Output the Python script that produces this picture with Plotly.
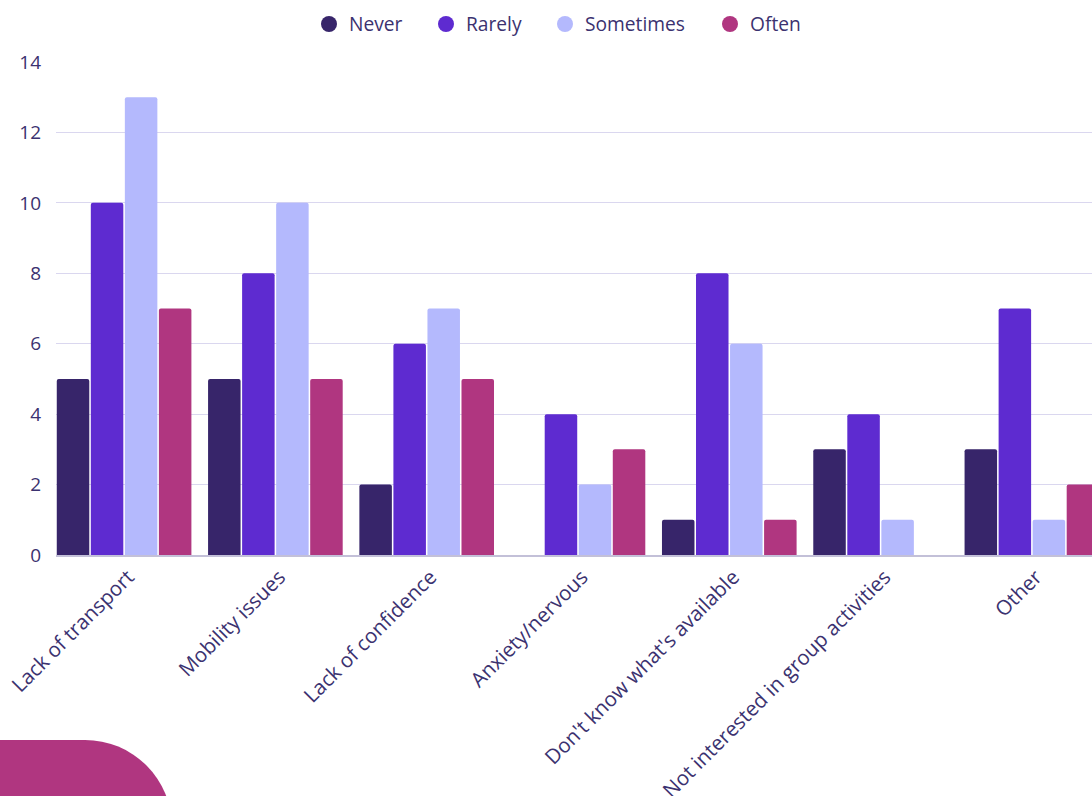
import plotly.graph_objects as go

categories = ["Lack of transport", "Mobility issues", "Lack of confidence", "Anxiety/nervous",
              "Don't know what's available", "Not interested in group activities", "Other"]
series_names = ["Never", "Rarely", "Sometimes", "Often"]
never = [5, 5, 2, 0, 1, 3, 3]
rarely = [10, 8, 6, 4, 8, 4, 7]
sometimes = [13, 10, 7, 2, 6, 1, 1]
often = [7, 5, 5, 3, 1, 0, 2]
y_ticks = [0, 2, 4, 6, 8, 10, 12, 14]

colors = ["#37256a", "#5e2bd0", "#b4b9fd", "#b03680"]
text_color = "#3b3270"
FONT = "Open Sans"

W, H = 1092, 796
ML, MR, MT, MB = 56, 0, 62, 241
PW = W - ML - MR
PH = H - MT - MB

def px2paper_x(px):
    return (px - ML) / PW

def px2paper_y(py):
    return (H - MB - py) / PH

legend_ids = ["legend", "legend2", "legend3", "legend4"]
legend_circle_px = [329, 446, 565, 730]

fig = go.Figure()
idx = list(range(len(categories)))
for name, vals, col in zip(series_names, [never, rarely, sometimes, often], colors):
    fig.add_trace(go.Bar(x=idx, y=vals, name=name, marker=dict(color=col, cornerradius=2, line=dict(width=0)),
                         showlegend=False))
for name, col, lid in zip(series_names, colors, legend_ids):
    fig.add_trace(go.Scatter(x=[None], y=[None], mode="markers", name=name, legend=lid,
                             marker=dict(symbol="circle", size=20, color=col)))

legend_common = dict(orientation="h", xanchor="left", yanchor="middle", y=px2paper_y(24),
                     font=dict(size=19.2, color=text_color, family=FONT), itemsizing="trace",
                     bgcolor="rgba(0,0,0,0)", borderwidth=0)
legend_layout = {}
for lid, cxp in zip(legend_ids, legend_circle_px):
    legend_layout[lid] = dict(legend_common, x=px2paper_x(cxp - 20))

# decorative blob bottom-left
r = 87
cx, cy = 85, 740 + r
fig.add_shape(type="circle", xref="paper", yref="paper",
              x0=px2paper_x(cx - r), x1=px2paper_x(cx + r),
              y0=px2paper_y(cy + r), y1=px2paper_y(cy - r),
              fillcolor="#b03680", line=dict(width=0), layer="above")
fig.add_shape(type="rect", xref="paper", yref="paper",
              x0=px2paper_x(-10), x1=px2paper_x(cx + 1),
              y0=px2paper_y(810), y1=px2paper_y(740),
              fillcolor="#b03680", line=dict(width=0), layer="above")

fig.update_layout(
    width=W, height=H,
    margin=dict(l=ML, r=MR, t=MT, b=MB, pad=0, autoexpand=False),
    barmode="group", bargap=0.1, bargroupgap=0.045,
    plot_bgcolor="white", paper_bgcolor="white",
    font=dict(family=FONT, size=19, color=text_color),
    xaxis=dict(range=[-0.45, -0.45 + PW / 151.3], tickmode="array", tickvals=idx, ticktext=categories,
               tickangle=-45, showgrid=False, zeroline=False, showline=True, linecolor="#c3c0d8", linewidth=2,
               ticks="", automargin=False, ticklabelshift=4, tickfont=dict(size=20.5, color=text_color)),
    yaxis=dict(range=[0, 14], tickvals=y_ticks, showgrid=True, gridcolor="#dad7ef", gridwidth=1,
               zeroline=False, showline=False, ticks="", ticklabelstandoff=14, automargin=False,
               tickfont=dict(size=19, color=text_color)),
    **legend_layout,
)

fig.write_html("out.html")
